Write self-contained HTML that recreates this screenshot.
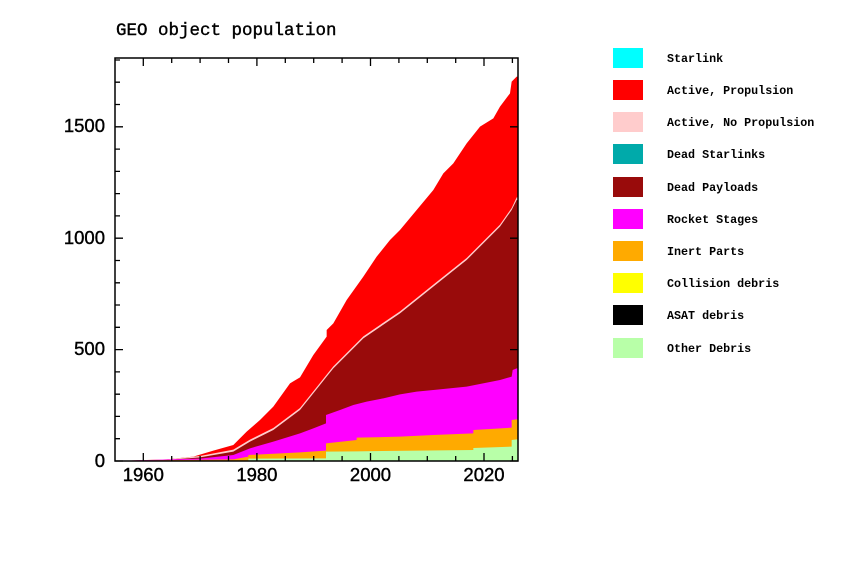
<!DOCTYPE html>
<html><head><style>
body{margin:0;background:#fff;}
svg{display:block;}
.t{font-family:"Liberation Sans",sans-serif;font-size:18.5px;fill:#000;stroke:#000;stroke-width:0.4;}
.l{font-family:"Liberation Mono",monospace;font-size:11.7px;font-weight:bold;fill:#000;}
</style></head><body>
<svg width="857" height="576" viewBox="0 0 857 576" xmlns="http://www.w3.org/2000/svg">
<text x="116" y="35" style="font-family:'Liberation Mono',monospace;font-size:17.5px;stroke:#000;stroke-width:0.4;">GEO object population</text>
<g transform="translate(100,40) scale(0.33333)">
<polygon fill="#ff0000" points="80,1262 200,1258 280,1250 340,1232 400,1215 440,1175 480,1140 520,1100 570,1030 600,1012 640,945 680,890 680,870 700,850 740,780 790,710 830,650 870,600 900,570 950,510 1000,450 1030,400 1060,370 1100,310 1140,260 1180,235 1200,200 1230,160 1235,125 1250,110 1253,110 1253,1262"/>
<polygon fill="#ffcccc" points="80,1262 200,1258 300,1248 400,1229 450,1199 520,1164 600,1104 680,1004 700,979 790,889 900,814 1000,734 1100,654 1200,554 1235,504 1250,472 1253,472 1253,1262"/>
<polygon fill="#990b0b" points="80,1262 200,1260 300,1252 400,1235 450,1205 520,1170 600,1110 680,1010 700,985 790,895 900,820 1000,740 1100,660 1200,560 1235,510 1250,480 1253,480 1253,1262"/>
<polygon fill="#ff00ff" points="80,1262 300,1256 400,1245 450,1225 520,1205 600,1180 640,1165 678,1150 678,1125 720,1110 760,1095 800,1085 850,1075 900,1063 950,1055 1000,1050 1100,1040 1200,1020 1235,1010 1238,990 1250,985 1253,985 1253,1262"/>
<polygon fill="#ffaa00" points="80,1262 400,1258 445,1250 445,1245 600,1237 678,1232 678,1210 770,1200 770,1193 900,1190 1000,1185 1120,1180 1120,1170 1235,1163 1235,1140 1250,1138 1253,1138 1253,1262"/>
<polygon fill="#b8ffa8" points="80,1262 445,1262 445,1256 678,1255 678,1235 770,1234 1120,1230 1120,1224 1235,1220 1235,1200 1250,1198 1253,1198 1253,1262"/>
</g>
<rect x="115" y="58" width="403" height="403" fill="none" stroke="#000" stroke-width="1.5"/>
<g stroke="#000" stroke-width="1.3">
<path d="M115 461h8 M115 438.7h5 M115 416.4h5 M115 394.2h5 M115 371.9h5 M115 349.6h8 M115 327.3h5 M115 305h5 M115 282.8h5 M115 260.5h5 M115 238.2h8 M115 215.9h5 M115 193.6h5 M115 171.4h5 M115 149.1h5 M115 126.8h8 M115 104.5h5 M115 82.2h5 M115 60h5"/>
<path d="M518 461h-8 M518 349.6h-8 M518 238.2h-8 M518 126.8h-8"/>
<path d="M143.3 461v-8 M171.7 461v-5 M200.1 461v-5 M228.5 461v-5 M256.9 461v-8 M285.3 461v-5 M313.7 461v-5 M342.1 461v-5 M370.5 461v-8 M398.9 461v-5 M427.3 461v-5 M455.7 461v-5 M484 461v-8 M512.4 461v-5"/>
<path d="M143.3 58v8 M171.7 58v5 M200.1 58v5 M228.5 58v5 M256.9 58v8 M285.3 58v5 M313.7 58v5 M342.1 58v5 M370.5 58v8 M398.9 58v5 M427.3 58v5 M455.7 58v5 M484 58v8 M512.4 58v5"/>
</g>
<text class="t" x="105" y="467" text-anchor="end">0</text>
<text class="t" x="105" y="355" text-anchor="end">500</text>
<text class="t" x="105" y="244" text-anchor="end">1000</text>
<text class="t" x="105" y="132" text-anchor="end">1500</text>
<text class="t" x="143.3" y="481" text-anchor="middle">1960</text>
<text class="t" x="256.9" y="481" text-anchor="middle">1980</text>
<text class="t" x="370.5" y="481" text-anchor="middle">2000</text>
<text class="t" x="484" y="481" text-anchor="middle">2020</text>
<g>
<rect x="613" y="48" width="30" height="20" fill="#00ffff"/><text class="l" x="667" y="62">Starlink</text>
<rect x="613" y="80" width="30" height="20" fill="#ff0000"/><text class="l" x="667" y="94">Active, Propulsion</text>
<rect x="613" y="112" width="30" height="20" fill="#ffcccc"/><text class="l" x="667" y="126">Active, No Propulsion</text>
<rect x="613" y="144" width="30" height="20" fill="#00aaaa"/><text class="l" x="667" y="158">Dead Starlinks</text>
<rect x="613" y="177" width="30" height="20" fill="#990b0b"/><text class="l" x="667" y="191">Dead Payloads</text>
<rect x="613" y="209" width="30" height="20" fill="#ff00ff"/><text class="l" x="667" y="223">Rocket Stages</text>
<rect x="613" y="241" width="30" height="20" fill="#ffaa00"/><text class="l" x="667" y="255">Inert Parts</text>
<rect x="613" y="273" width="30" height="20" fill="#ffff00"/><text class="l" x="667" y="287">Collision debris</text>
<rect x="613" y="305" width="30" height="20" fill="#000000"/><text class="l" x="667" y="319">ASAT debris</text>
<rect x="613" y="338" width="30" height="20" fill="#b8ffa8"/><text class="l" x="667" y="352">Other Debris</text>
</g>
</svg>
</body></html>
